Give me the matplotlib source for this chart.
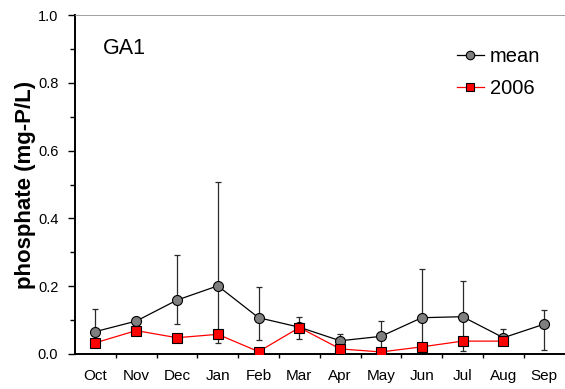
import numpy as np
import matplotlib
matplotlib.use('Agg')
import matplotlib.pyplot as plt

plt.rcParams['font.family'] = ['Liberation Sans', 'DejaVu Sans']

months = ['Oct', 'Nov', 'Dec', 'Jan', 'Feb', 'Mar', 'Apr', 'May', 'Jun', 'Jul', 'Aug', 'Sep']
mean_vals = [0.066, 0.097, 0.159, 0.201, 0.107, 0.079, 0.039, 0.052, 0.107, 0.110, 0.048, 0.088]
mean_upper = [0.133, 0.100, 0.292, 0.507, 0.199, 0.108, 0.058, 0.096, 0.250, 0.216, 0.075, 0.129]
mean_lower = [0.045, 0.094, 0.088, 0.031, 0.041, 0.044, 0.025, 0.008, 0.020, 0.009, 0.030, 0.012]
y2006 = [0.033, 0.069, 0.048, 0.058, 0.007, 0.078, 0.015, 0.006, 0.021, 0.038, 0.038, np.nan]

x = np.arange(len(months))
mean_arr = np.array(mean_vals)
yerr = [mean_arr - np.array(mean_lower), np.array(mean_upper) - mean_arr]

fig = plt.figure(figsize=(5.65, 3.89), dpi=100)
ax = fig.add_axes([0.1327, 0.09, 0.8666, 0.8714])

# error bars first, then lines with markers on top
ax.errorbar(x, mean_vals, yerr=yerr, fmt='none', ecolor='#2a2a2a', elinewidth=0.9,
            capsize=2.3, capthick=0.9, zorder=1)
ax.plot(x, mean_vals, color='black', lw=0.9, marker='o', markersize=7.2,
        markerfacecolor='#7f7f7f', markeredgecolor='black', markeredgewidth=0.8,
        label='mean', zorder=2)
ax.plot(x, y2006, color='red', lw=0.9, marker='s', markersize=7,
        markerfacecolor='red', markeredgecolor='black', markeredgewidth=0.8,
        label='2006', zorder=3)

ax.set_xlim(-0.5, 11.5)
ax.set_ylim(0, 1.0)
ax.set_yticks(np.arange(0, 1.01, 0.2))
ax.set_yticks(np.arange(0, 1.01, 0.1), minor=True)
ax.set_yticklabels(['0.0', '0.2', '0.4', '0.6', '0.8', '1.0'], fontsize=10.5)

# month labels centred, ticks between months
ax.set_xticks(np.arange(0.5, 11.0, 1.0))
ax.set_xticklabels([])
ax.set_xticks(x, minor=True)
ax.set_xticklabels(months, minor=True, fontsize=11)
ax.tick_params(axis='x', which='minor', length=0, pad=11)
ax.tick_params(axis='x', which='major', direction='out', length=3, width=1)
ax.tick_params(axis='y', which='both', direction='out', width=1)
ax.tick_params(axis='y', which='major', length=5, pad=7)
ax.tick_params(axis='y', which='minor', length=3.6)

for s in ['left', 'bottom']:
    ax.spines[s].set_linewidth(1.4)
for s in ['top', 'right']:
    ax.spines[s].set_linewidth(0.6)
    ax.spines[s].set_color('#909090')

ax.set_ylabel('phosphate (mg-P/L)', fontsize=16, fontweight='bold', labelpad=1.5)
ax.text(0.057, 0.9, 'GA1', transform=ax.transAxes, fontsize=15.5, va='center', ha='left')

ax.legend(loc='upper right', frameon=False, fontsize=14.5, handlelength=1.35,
          handletextpad=0.3, labelspacing=0.62, bbox_to_anchor=(0.987, 0.958),
          markerscale=0.85)

fig.savefig('out.png', dpi=100)
